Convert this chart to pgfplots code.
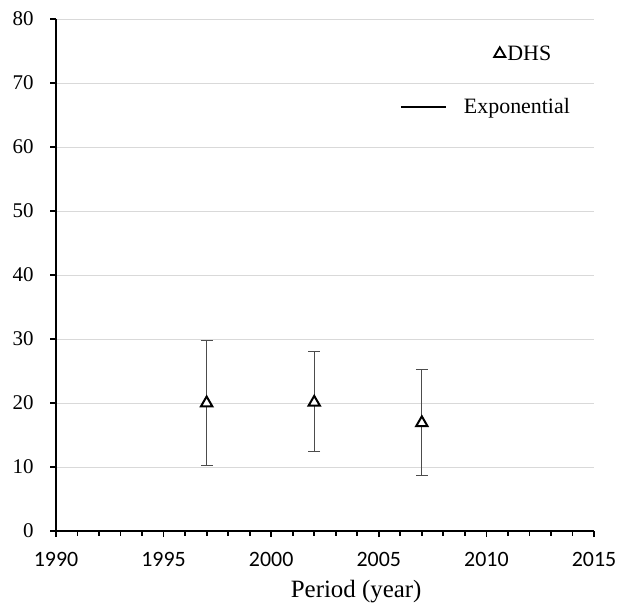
\documentclass[border=0pt]{standalone}
\usepackage{fontspec}
\setmainfont{Liberation Serif}
\newfontfamily\calibri{Carlito}
\usepackage{pgfplots}
\pgfplotsset{compat=1.18}
\usepackage{pgfplotstable}

% DHS estimates with upper / lower error
\pgfplotstableread{
year  val   eplus  eminus
1997  20.0  9.75   9.7
2002  20.1  8.0    7.7
2007  16.9  8.3    8.2
}\dhs

\begin{document}
\begin{tikzpicture}
\useasboundingbox (-56bp,-72bp) rectangle (562bp,531bp);
\begin{axis}[scale only axis, width=538bp, height=512bp,
  xmin=1990, xmax=2015, ymin=0, ymax=80,
  xtick={1990,1995,...,2015}, minor x tick num=4,
  ytick={0,10,...,80},
  axis x line*=bottom, axis y line*=left,
  axis line style={line width=2.5bp, -},
  tick align=outside, major tick length=6bp, minor tick length=4.5bp,
  tick style={line width=1.8bp, black},
  ymajorgrids, grid style={line width=0.8bp, color=black!15},
  /pgf/number format/1000 sep={}, /pgf/number format/assume math mode=true,
  x tick label style={font=\calibri\fontsize{22}{22}\selectfont, yshift=-12bp},
  y tick label style={font=\fontsize{21}{21}\selectfont, xshift=-13bp},
  xlabel={Period (year)},
  xlabel style={font=\fontsize{25}{25}\selectfont, at={(axis description cs:0.558,0)}, anchor=base, yshift=-66bp},
  legend image code/.code={\draw[#1, line width=2bp] (0bp,0bp) -- (45bp,0bp);},
  legend style={draw=none, fill=none, at={(axis description cs:0.639,0.829)}, anchor=west,
    inner xsep=0pt, inner ysep=0pt, font=\fontsize{22}{22}\selectfont,
    nodes={inner xsep=1bp}, /tikz/every odd column/.append style={column sep=16bp}},
]
\addplot[only marks, mark=triangle*, mark size=6.5bp,
  mark options={fill=white, draw=black, line width=2bp},
  error bars/.cd, y dir=both, y explicit,
  error bar style={line width=0.8bp, color=black!70},
  error mark options={rotate=90, mark size=6bp, line width=0.8bp, color=black!70}]
  table[x=year, y=val, y error plus=eplus, y error minus=eminus] {\dhs};
\addlegendimage{black}
\addlegendentry{Exponential}
\end{axis}
\begin{axis}[scale only axis, width=538bp, height=512bp, hide axis,
  xmin=1990, xmax=2015, ymin=0, ymax=80,
  legend image code/.code={\draw[#1] plot coordinates {(0bp,0bp)};},
  legend style={draw=none, fill=none, at={(axis description cs:0.814,0.932)}, anchor=west,
    inner xsep=0pt, inner ysep=0pt, font=\fontsize{22}{22}\selectfont,
    nodes={inner xsep=1bp}, /tikz/every odd column/.append style={column sep=1bp}},
]
\addlegendimage{only marks, mark=triangle*, mark size=6.5bp, mark options={fill=white, draw=black, line width=1.8bp}}
\addlegendentry{DHS}
\end{axis}
\end{tikzpicture}
\end{document}
